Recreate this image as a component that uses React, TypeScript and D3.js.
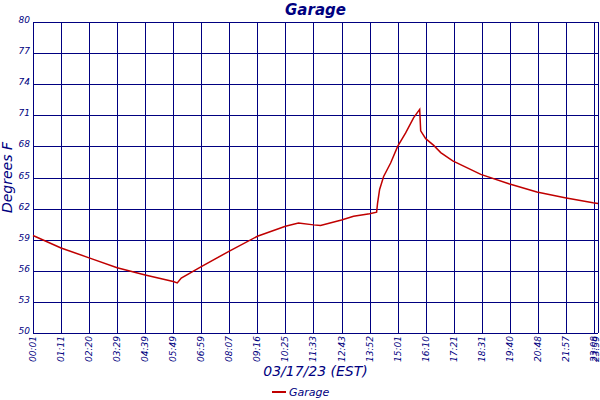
import React from 'react';
import * as d3 from 'd3';

// sample index (one reading per ~2.5 min) and garage temperature
const sampleIdx = [0, 28, 56, 84, 112, 140, 144, 148, 168, 196, 224, 252, 265, 280, 287, 308, 320, 336, 343, 344, 346, 350, 357, 364, 372, 380, 386, 387, 392, 400, 407, 419, 447, 475, 503, 531, 559, 564];
const tempF = [59.4, 58.2, 57.25, 56.3, 55.6, 54.96, 54.83, 55.3, 56.4, 57.9, 59.33, 60.3, 60.6, 60.43, 60.37, 60.9, 61.27, 61.5, 61.65, 62.56, 63.85, 65.1, 66.4, 68.0, 69.3, 70.77, 71.57, 69.5, 68.75, 68.1, 67.4, 66.6, 65.3, 64.4, 63.6, 63.05, 62.56, 62.5];

const tickIdx = [0, 28, 56, 84, 112, 140, 168, 196, 224, 252, 280, 308, 336, 364, 392, 420, 448, 476, 504, 532, 560, 564];
const tickLabels = ['00:01', '01:11', '02:20', '03:29', '04:39', '05:49', '06:59', '08:07', '09:16', '10:25', '11:33', '12:43', '13:52', '15:01', '16:10', '17:21', '18:31', '19:40', '20:48', '21:57', '23:08', '23:59'];
const yTicks = [50, 53, 56, 59, 62, 65, 68, 71, 74, 77, 80];

const NAVY = '#000080';
const RED = '#c00000';
const FONT = '"DejaVu Sans", Verdana, sans-serif';

export default function App() {
  const width = 600;
  const height = 400;
  const margin = { top: 22, right: 2, bottom: 67, left: 33 };

  const x = d3.scaleLinear().domain([0, 564]).range([margin.left, width - margin.right]);
  const y = d3.scaleLinear().domain([50, 80]).range([height - margin.bottom, margin.top]);

  const pts = sampleIdx.map((s, i) => [s, tempF[i]] as [number, number]);
  const line = d3.line<[number, number]>().x(d => x(d[0])).y(d => y(d[1]));

  const bottom = height - margin.bottom;
  const cx = (margin.left + width - margin.right) / 2;
  const px = (v: number) => Math.round(v) + 0.5;

  return (
    <svg width={width} height={height} style={{ position: 'absolute', left: 0, top: 0, background: '#fff' }}
      fontFamily={FONT}>
      {/* grid */}
      <g shapeRendering="crispEdges" stroke={NAVY} strokeWidth={1.3}>
        {tickIdx.map((t, i) => (
          <line key={'v' + i} x1={px(x(t))} x2={px(x(t))} y1={margin.top} y2={bottom} />
        ))}
        {yTicks.map((t, i) => (
          <line key={'h' + i} x1={margin.left} x2={width - margin.right} y1={px(y(t))} y2={px(y(t))} />
        ))}
      </g>

      {/* y tick labels */}
      {yTicks.map((t, i) => (
        <text key={'yl' + i} x={margin.left - 3} y={y(t) + 1} textAnchor="end" fontSize={9} fontStyle="italic" fill={NAVY}>{t}</text>
      ))}

      {/* x tick labels */}
      {tickIdx.map((t, i) => (
        <text key={'xl' + i} transform={`translate(${Math.min(x(t) + 3, 599)},${bottom + 3}) rotate(-90)`} textAnchor="end"
          fontSize={9} fontStyle="italic" fill={NAVY}>{tickLabels[i]}</text>
      ))}

      {/* data */}
      <path d={line(pts) || ''} fill="none" stroke={RED} strokeWidth={1.5} />

      {/* titles */}
      <text x={cx} y={15} textAnchor="middle" fontSize={15} fontWeight="bold" fontStyle="italic" fill={NAVY}>Garage</text>
      <text transform={`translate(12,${(margin.top + bottom) / 2}) rotate(-90)`} textAnchor="middle" fontSize={14}
        fontStyle="italic" fill={NAVY}>Degrees F</text>
      <text x={cx} y={376} textAnchor="middle" fontSize={14} fontStyle="italic" fill={NAVY}>03/17/23 (EST)</text>

      {/* legend */}
      <line x1={272} x2={286} y1={392} y2={392} stroke={RED} strokeWidth={2} />
      <text x={289} y={396} fontSize={11} fontStyle="italic" fill={NAVY}>Garage</text>
    </svg>
  );
}
